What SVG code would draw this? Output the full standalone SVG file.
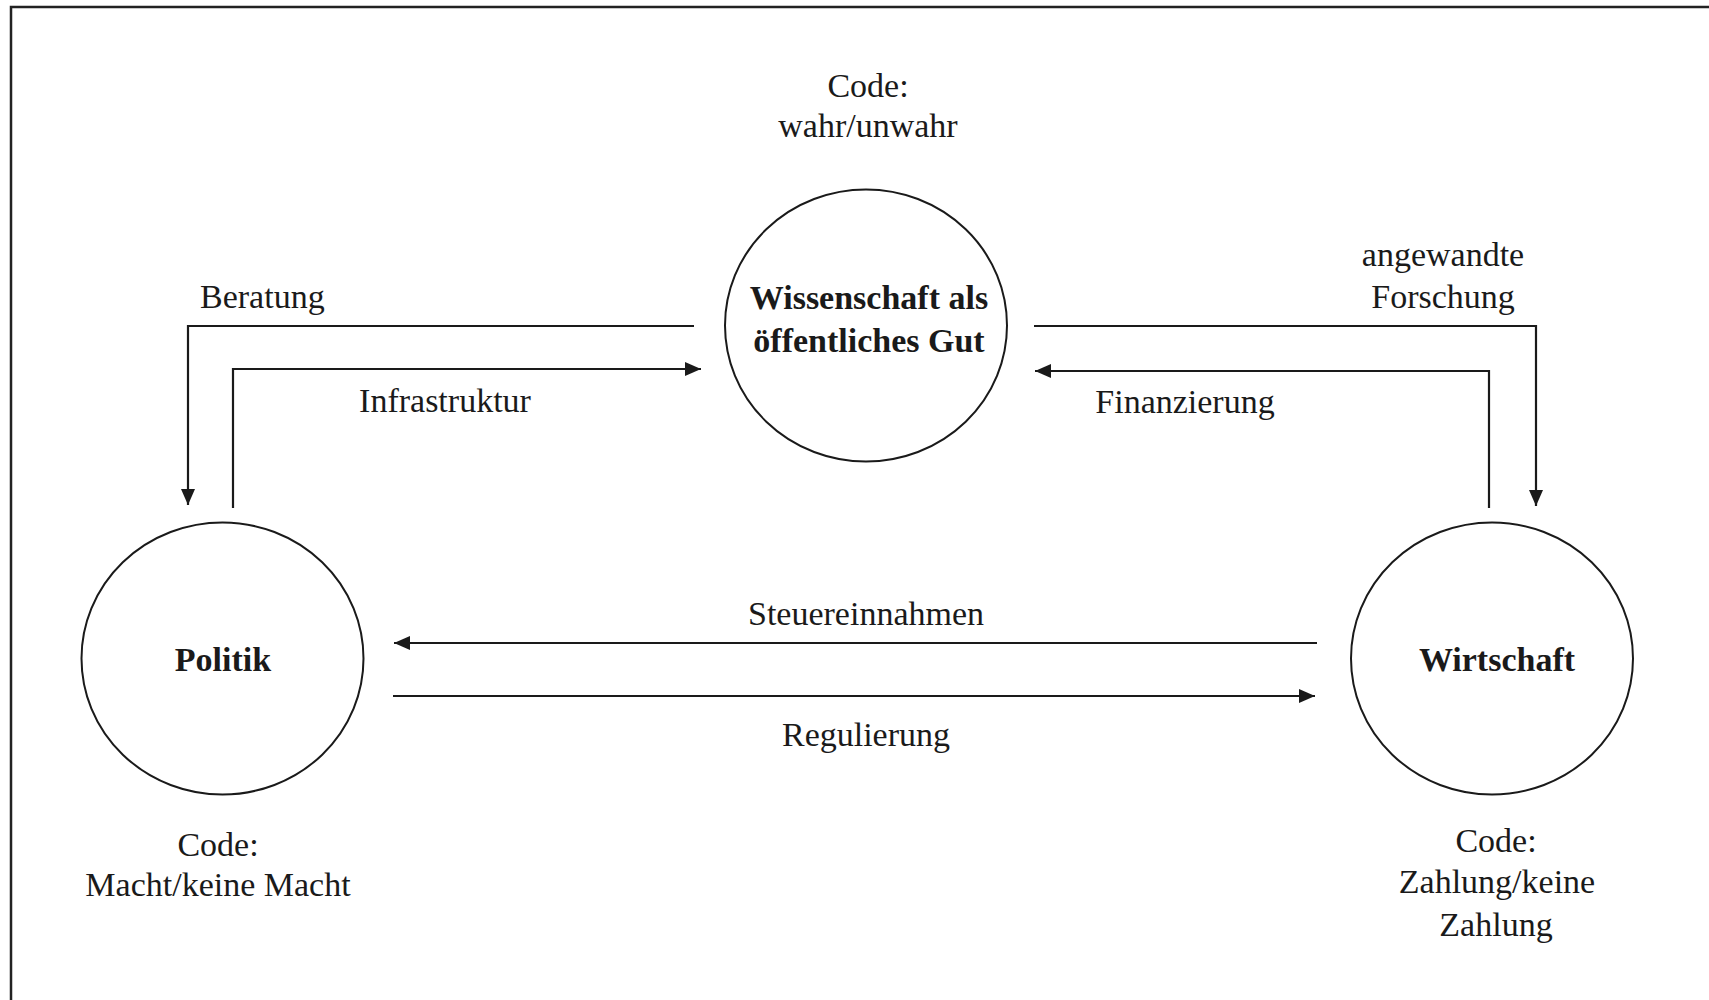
<svg xmlns="http://www.w3.org/2000/svg" width="1709" height="1000" viewBox="0 0 1709 1000">
<style>
text{font-family:"Liberation Serif","Times New Roman",serif;font-size:34px;fill:#1a1a1a}
.b{font-weight:bold}
.c{text-anchor:middle}
.node{fill:#fff;stroke:#1a1a1a;stroke-width:2}
.conn{fill:none;stroke:#1a1a1a;stroke-width:2.2}
.frame{stroke:#222;stroke-width:2.5;fill:none}
</style>
<defs>
<marker id="arr" markerUnits="userSpaceOnUse" markerWidth="16" markerHeight="14" refX="16" refY="7" orient="auto">
<path d="M0,0 L16,7 L0,14 z" fill="#1a1a1a"/>
</marker>
</defs>
<rect width="1709" height="1000" fill="#fff"/>
<path class="frame" d="M11,1000 V7 H1709"/>
<g id="connectors">
<path class="conn" d="M694,326 H188 V505" marker-end="url(#arr)"/>
<path class="conn" d="M233,508 V369 H701" marker-end="url(#arr)"/>
<path class="conn" d="M1034,326 H1536 V506" marker-end="url(#arr)"/>
<path class="conn" d="M1489,508 V371 H1035" marker-end="url(#arr)"/>
<path class="conn" d="M1317,643 H394" marker-end="url(#arr)"/>
<path class="conn" d="M393,696 H1315" marker-end="url(#arr)"/>
<text x="200" y="308">Beratung</text>
<text class="c" x="445" y="412">Infrastruktur</text>
<text class="c" x="1443" y="266">angewandte</text>
<text class="c" x="1443" y="308">Forschung</text>
<text class="c" x="1185" y="413">Finanzierung</text>
<text class="c" x="866" y="625">Steuereinnahmen</text>
<text class="c" x="866" y="746">Regulierung</text>
</g>
<g id="wissenschaft">
<ellipse class="node" cx="866" cy="325.5" rx="141" ry="136"/>
<text class="c b" x="869" y="309">Wissenschaft als</text>
<text class="c b" x="869" y="352">öffentliches Gut</text>
<text class="c" x="868" y="97">Code:</text>
<text class="c" x="868" y="137">wahr/unwahr</text>
</g>
<g id="politik">
<ellipse class="node" cx="222.5" cy="658.5" rx="141" ry="136"/>
<text class="c b" x="223" y="671">Politik</text>
<text class="c" x="218" y="856">Code:</text>
<text class="c" x="218" y="896">Macht/keine Macht</text>
</g>
<g id="wirtschaft">
<ellipse class="node" cx="1492" cy="658.5" rx="141" ry="136"/>
<text class="c b" x="1497" y="671">Wirtschaft</text>
<text class="c" x="1496" y="852">Code:</text>
<text class="c" x="1497" y="893">Zahlung/keine</text>
<text class="c" x="1496" y="936">Zahlung</text>
</g>
</svg>
